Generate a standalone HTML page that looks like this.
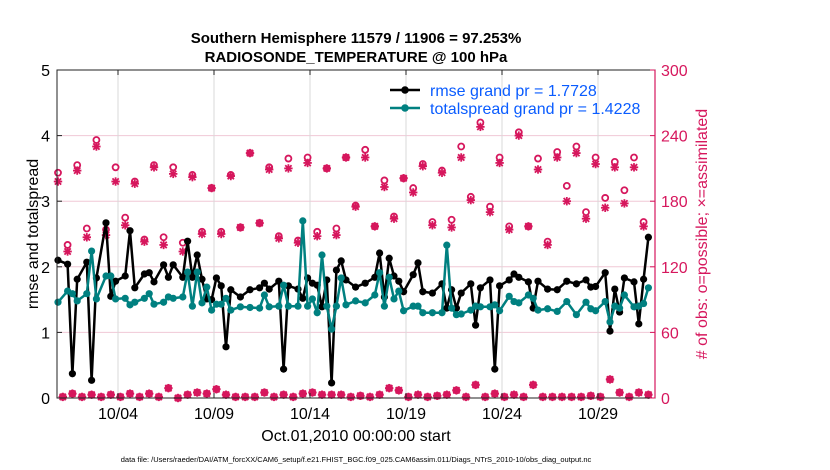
<!DOCTYPE html>
<html><head><meta charset="utf-8"><style>
body{margin:0;background:#fff;}
svg{display:block;font-family:"Liberation Sans",Arial,sans-serif;}
</style></head><body>
<svg id="chart" width="830" height="470" viewBox="0 0 830 470" xmlns="http://www.w3.org/2000/svg">
<rect width="830" height="470" fill="#fff"/>
<g id="grid"></g>
<g id="marks"></g>
<g id="axes"></g>
<text x="356" y="43" text-anchor="middle" font-size="15" font-weight="bold">Southern Hemisphere 11579 / 11906 = 97.253%</text>
<text x="356" y="62" text-anchor="middle" font-size="15" font-weight="bold">RADIOSONDE_TEMPERATURE @ 100 hPa</text>
<text transform="translate(38,234) rotate(-90)" text-anchor="middle" font-size="16">rmse and totalspread</text>
<text transform="translate(707,234) rotate(-90)" text-anchor="middle" font-size="16" fill="#d6175d"># of obs: o=possible; ×=assimilated</text>
<text x="356" y="441" text-anchor="middle" font-size="16">Oct.01,2010 00:00:00 start</text>
<text x="356" y="462" text-anchor="middle" font-size="7.5">data file: /Users/raeder/DAI/ATM_forcXX/CAM6_setup/f.e21.FHIST_BGC.f09_025.CAM6assim.011/Diags_NTrS_2010-10/obs_diag_output.nc</text>
<g>
<line x1="390" y1="90" x2="420" y2="90" stroke="#000" stroke-width="2.5"/>
<circle cx="405" cy="90" r="3.8" fill="#000"/>
<text x="430" y="96" font-size="16" fill="#0a5cff">rmse grand pr = 1.7728</text>
<line x1="390" y1="108" x2="420" y2="108" stroke="#008080" stroke-width="2.5"/>
<circle cx="405" cy="108" r="3.8" fill="#008080"/>
<text x="430" y="114" font-size="16" fill="#0a5cff">totalspread grand pr = 1.4228</text>
</g>
</svg>
<script>
const slots=[0,2,3,4,6,7,8,10,11,12,14,15,16,18,19,20,22,23,24,26,27,28,29,30,31,32,33,34,35,36,38,40,42,43,44,46,47,48,50,51,52,53,54,55,56,57,58,59,60,62,64,66,67,68,69,70,71,72,74,75,76,78,80,81,82,83,84,86,87,88,90,91,92,94,95,96,98,99,100,102,104,106,108,110,111,112,114,115,116,117,118,120,121,122,123];
const rmse=[2.10,2.04,0.37,1.81,2.07,0.27,1.83,2.67,1.55,1.78,1.86,2.55,1.68,1.89,1.91,1.77,2.03,1.84,2.03,1.84,2.39,1.84,2.18,1.81,1.51,1.50,1.83,1.71,0.78,1.65,1.54,1.65,1.68,1.75,1.66,1.78,0.44,1.71,1.66,1.52,1.83,1.75,1.72,1.39,1.80,0.23,1.95,2.09,1.80,1.69,1.75,1.84,2.21,1.54,2.13,1.86,1.78,1.62,1.88,2.06,1.62,1.60,1.74,1.37,1.65,1.37,1.60,1.74,1.11,1.68,1.80,0.44,1.71,1.80,1.89,1.84,1.77,1.37,1.78,1.66,1.65,1.78,1.74,1.80,1.69,1.70,1.91,1.02,1.66,1.31,1.83,1.77,1.13,1.81,2.45];
const spread=[1.46,1.63,1.59,1.48,1.59,2.24,1.51,1.86,1.86,1.51,1.52,1.42,1.46,1.52,1.59,1.43,1.46,1.54,1.52,1.54,1.92,1.40,1.92,1.45,1.69,1.34,1.43,1.43,1.52,1.34,1.39,1.38,1.37,1.57,1.39,1.40,1.72,1.40,1.40,2.70,1.40,1.51,1.30,2.18,1.40,1.05,1.40,1.83,1.42,1.48,1.45,1.57,1.91,1.40,1.84,1.51,1.63,1.33,1.40,1.40,1.30,1.30,1.30,2.33,1.37,1.27,1.28,1.34,1.40,1.39,1.39,1.42,1.33,1.55,1.47,1.45,1.57,1.52,1.34,1.36,1.32,1.47,1.27,1.46,1.36,1.33,1.47,1.16,1.40,1.37,1.57,1.39,1.40,1.44,1.68];
const obsSlots=[0,2,4,6,8,10,12,14,16,18,20,22,24,26,28,30,32,34,36,38,40,42,44,46,48,50,52,54,56,58,60,62,64,66,68,70,72,74,76,78,80,82,84,86,88,90,92,94,96,98,100,102,104,106,108,110,112,114,116,118,120,122];
const possible=[206,140,213,155,236,154,211,165,198,145,213,147,211,142,204,152,192,152,204,156,224,160,211,148,219,144,220,152,210,155,220,176,227,157,199,166,201,192,214,161,208,163,230,184,252,175,220,157,243,157,219,143,225,194,230,170,220,183,216,190,220,161];
const assimilated=[198,134,208,147,230,149,198,158,196,143,211,140,205,134,202,150,192,150,203,156,224,160,209,146,210,142,215,148,210,149,220,175,220,157,193,164,201,188,212,158,206,156,220,181,248,170,215,154,240,157,209,140,220,180,224,164,214,174,211,178,211,157];
const lowSlots=[1,3,5,7,9,11,13,15,17,19,21,23,25,27,29,31,33,35,37,39,41,43,45,47,49,51,53,55,57,59,61,63,65,67,69,71,73,75,77,79,81,83,85,87,89,91,93,95,97,99,101,103,105,107,109,111,113,115,117,119,121,123];
const lowCounts=[1,4,1,3,1,3,1,4,1,4,1,9,0,3,5,4,8,3,1,1,1,5,1,3,1,4,5,3,3,3,1,2,1,3,9,7,1,3,1,2,3,7,1,12,1,4,1,3,1,12,1,1,1,1,1,2,1,17,5,1,5,3];
const yTicks=[0,1,2,3,4,5];
const y2Ticks=[0,60,120,180,240,300];
const dateTicks=[3,8,13,18,23,28];
const dateLabels=["10/04","10/09","10/14","10/19","10/24","10/29"];

const NS="http://www.w3.org/2000/svg";
const L=57,R=655,T=70,B=398,PINK="#d6175d";
const xDay=d=>60.4+19.2*d;
const xSlot=i=>xDay(-0.125+i/4);
const yL=v=>B-(v/5)*(B-T);
const yR=v=>B-(v/300)*(B-T);
function mk(tag,attrs,parent){const e=document.createElementNS(NS,tag);for(const k in attrs)e.setAttribute(k,attrs[k]);parent.appendChild(e);return e;}
const grid=document.getElementById('grid'),marks=document.getElementById('marks'),axes=document.getElementById('axes');

y2Ticks.forEach(t=>{if(t>0&&t<300){const g=mk('line',{x1:L,x2:R,y1:yR(t),y2:yR(t),stroke:"#f0c8d6","stroke-width":1},grid);}});
dateTicks.forEach(d=>{const g=mk('line',{x1:xDay(d),x2:xDay(d),y1:T,y2:B,stroke:"#d8d8d8","stroke-width":1},grid);});

function series(vals,color,name){
  let d="";
  for(let k=0;k<slots.length;k++){
    const x=xSlot(slots[k]),y=yL(vals[k]);
    d+=(k>0&&slots[k]-slots[k-1]<=2?"L":"M")+x.toFixed(1)+" "+y.toFixed(1);
  }
  const p=mk('path',{d:d,fill:"none",stroke:color,"stroke-width":2.5,"stroke-linejoin":"round"},marks);
  
  
  for(let k=0;k<slots.length;k++){
    const c=mk('circle',{cx:xSlot(slots[k]),cy:yL(vals[k]),r:3.6,fill:color},marks);
    
    
  }
}
function star(x,y,name){
  const s=4.2,g=mk('g',{stroke:PINK,"stroke-width":1.8},marks);
  
  
  mk('line',{x1:x-s,y1:y,x2:x+s,y2:y},g);
  mk('line',{x1:x,y1:y-s,x2:x,y2:y+s},g);
  mk('line',{x1:x-s*0.75,y1:y-s*0.75,x2:x+s*0.75,y2:y+s*0.75},g);
  mk('line',{x1:x-s*0.75,y1:y+s*0.75,x2:x+s*0.75,y2:y-s*0.75},g);
}
function ring(x,y,name){
  const c=mk('circle',{cx:x,cy:y,r:3,fill:"none",stroke:PINK,"stroke-width":1.8},marks);
  
  
}
obsSlots.forEach((s,k)=>{ring(xSlot(s),yR(possible[k]),'possible-obs-marker');star(xSlot(s),yR(assimilated[k]),'assimilated-obs-marker');});
lowSlots.forEach((s,k)=>{star(xSlot(s),yR(lowCounts[k]),'low-count-marker');ring(xSlot(s),yR(lowCounts[k]),'low-count-ring');});
series(rmse,"#000",'rmse');
series(spread,"#008080",'totalspread');

const frame=mk('rect',{x:L,y:T,width:R-L,height:B-T,fill:"none",stroke:"#222","stroke-width":1},axes);


const ra=mk('line',{x1:R,x2:R,y1:T,y2:B,stroke:PINK,"stroke-width":1.2},axes);


yTicks.forEach(t=>{
  mk('line',{x1:L,x2:L+5,y1:yL(t),y2:yL(t),stroke:"#222"},axes);
  const tx=mk('text',{x:L-7,y:yL(t)+6,"text-anchor":"end","font-size":16},axes);
  tx.textContent=t;
  
  
});
y2Ticks.forEach(t=>{
  mk('line',{x1:R-5,x2:R,y1:yR(t),y2:yR(t),stroke:PINK},axes);
  const tx=mk('text',{x:R+6,y:yR(t)+6,"font-size":16,fill:PINK},axes);
  tx.textContent=t;
  
  
});
dateTicks.forEach((d,k)=>{
  mk('line',{x1:xDay(d),x2:xDay(d),y1:B,y2:B-5,stroke:"#222"},axes);
  mk('line',{x1:xDay(d),x2:xDay(d),y1:T,y2:T+5,stroke:"#222"},axes);
  const tx=mk('text',{x:xDay(d),y:B+21,"text-anchor":"middle","font-size":16},axes);
  tx.textContent=dateLabels[k];
  
  
});
</script>
</body></html>
